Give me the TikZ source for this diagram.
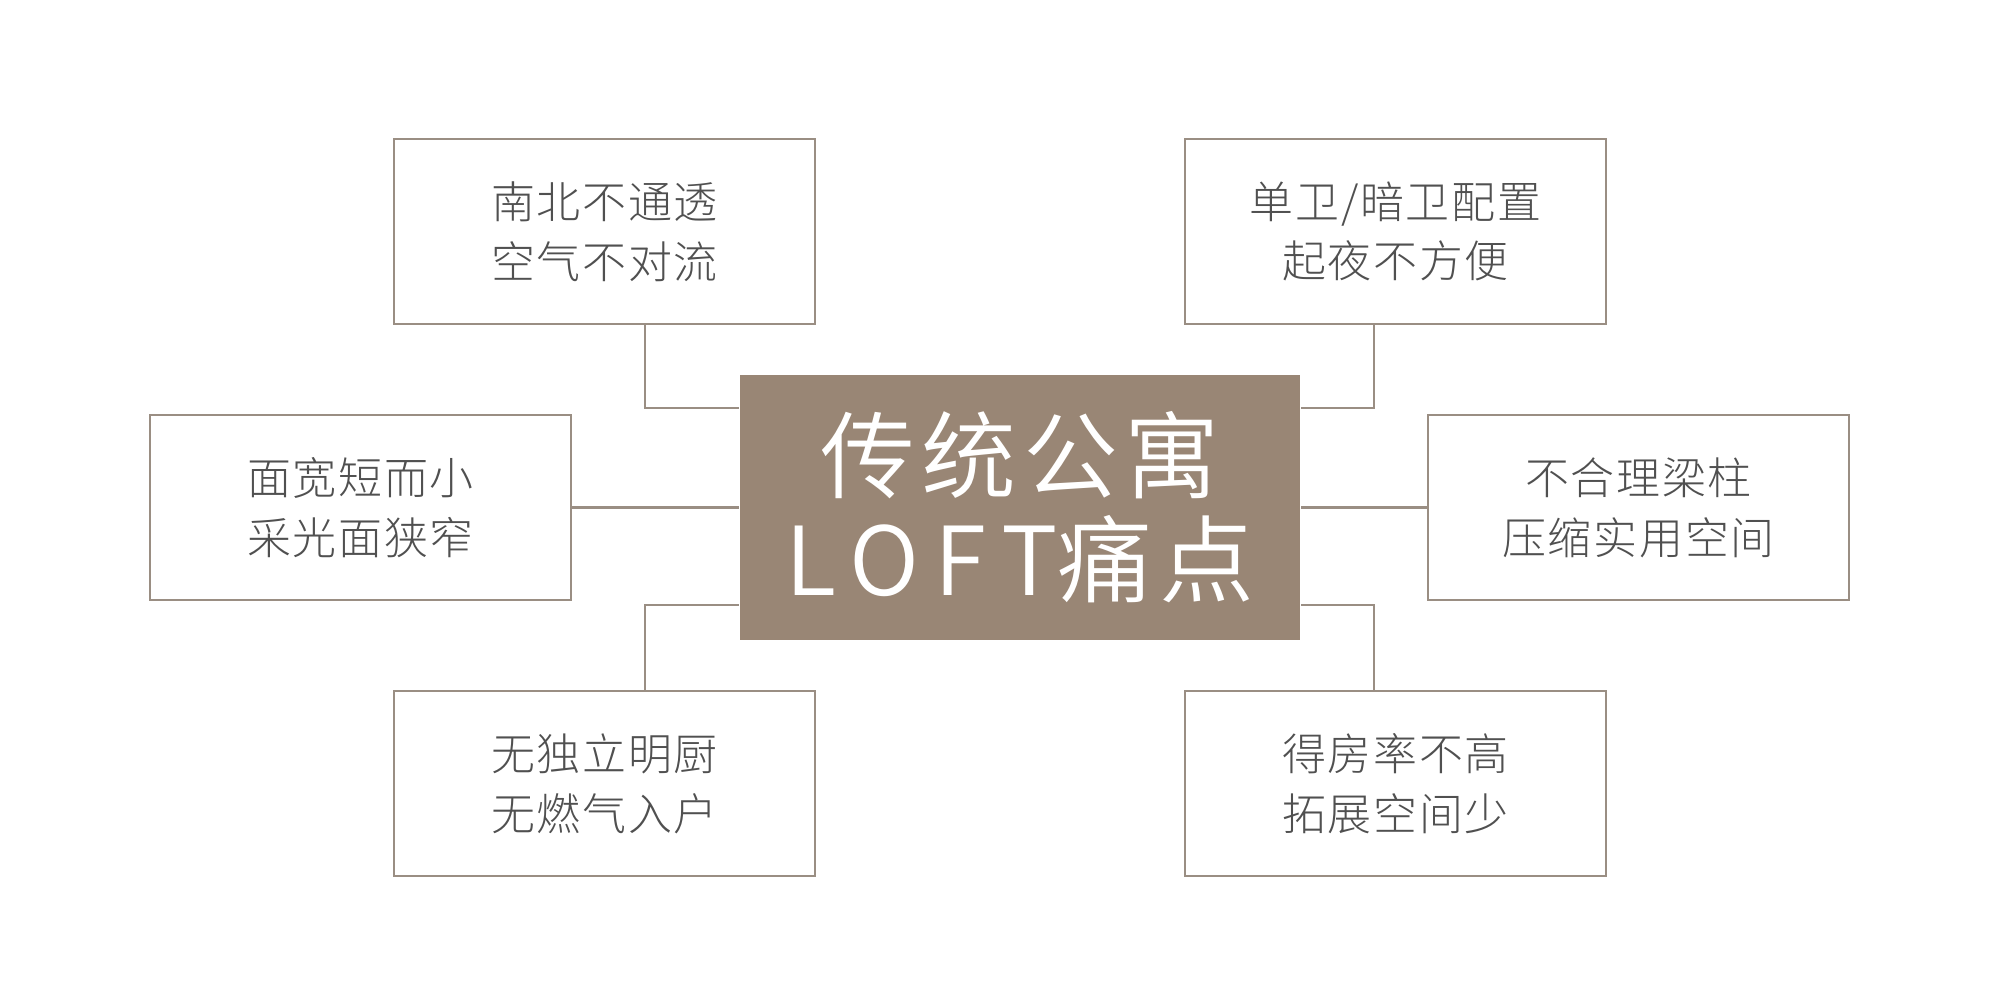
\documentclass[tikz,border=0pt]{standalone}
\usepackage{fontspec}
\setmainfont{Noto Sans CJK SC Light}[LetterSpace=4]
\newfontfamily\hubfont{Noto Sans CJK SC DemiLight}[LetterSpace=7]
\definecolor{taupe}{HTML}{998675}
\definecolor{edge}{HTML}{9A8E83}
\definecolor{ink}{HTML}{505050}
\begin{document}
\begin{tikzpicture}[x=0.01cm,y=-0.01cm,
    painbox/.style={draw=edge,line width=0.6pt,minimum width=4.21cm,minimum height=1.85cm,
      text=ink,align=center,font=\fontsize{12.5}{17}\selectfont},
    link/.style={draw=edge,line width=0.6pt}]
  \useasboundingbox (0,0) rectangle (2000,1001);
  \node[fill=taupe,minimum width=5.6cm,minimum height=2.65cm,text=white,align=center,
    font=\hubfont\fontsize{27}{29.5}\selectfont] (hub) at (1020,507.5)
    {传统公寓\\{\addfontfeature{LetterSpace=16}LOFT}痛点};
  \node[painbox] (tl) at (604.5,231.5) {南北不通透\\空气不对流};
  \node[painbox] (tr) at (1395.5,231.5) {单卫/暗卫配置\\起夜不方便};
  \node[painbox] (ml) at (360.5,507.5) {面宽短而小\\采光面狭窄};
  \node[painbox] (mr) at (1638.5,507.5) {不合理梁柱\\压缩实用空间};
  \node[painbox] (bl) at (604.5,783.5) {无独立明厨\\无燃气入户};
  \node[painbox] (br) at (1395.5,783.5) {得房率不高\\拓展空间少};
  \coordinate (tlj) at (645,408);
  \coordinate (trj) at (1374,408);
  \coordinate (blj) at (645,605);
  \coordinate (brj) at (1374,605);
  \draw[link] (tl.south -| tlj) |- (hub.west |- tlj);
  \draw[link] (tr.south -| trj) |- (hub.east |- trj);
  \draw[link] (ml.east) -- (hub.west);
  \draw[link] (mr.west) -- (hub.east);
  \draw[link] (bl.north -| blj) |- (hub.west |- blj);
  \draw[link] (br.north -| brj) |- (hub.east |- brj);
\end{tikzpicture}
\end{document}
